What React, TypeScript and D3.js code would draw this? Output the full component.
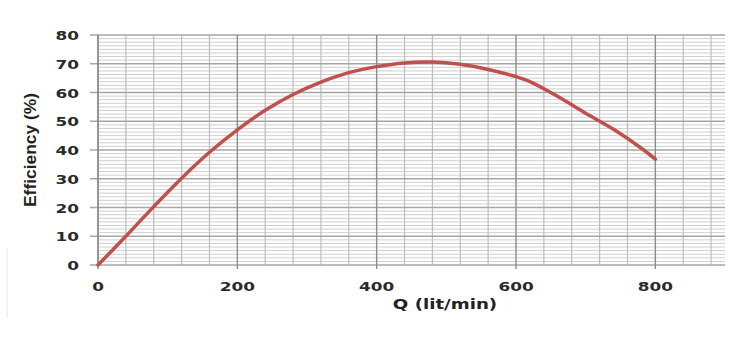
import React from 'react';
import * as d3 from 'd3';

// flow (lit/min) and efficiency (%)
const flow = [0, 40, 80, 120, 160, 200, 240, 280, 320, 360, 400, 440, 480, 520, 560, 600, 620, 660, 700, 740, 780, 800];
const efficiency = [0, 10, 20.3, 30.2, 39.2, 47, 53.8, 59.3, 63.6, 66.9, 69, 70.3, 70.6, 69.8, 68, 65.5, 63.8, 58.6, 52.8, 47.2, 40.6, 36.8];
const xTicks = [0, 200, 400, 600, 800];
const yTicks = [0, 10, 20, 30, 40, 50, 60, 70, 80];

const W = 749, H = 339;
const left = 98, right = 725, top = 35, bottom = 265;

export default function App() {
    const x = d3.scaleLinear().domain([0, 900]).range([left, right]);
    const y = d3.scaleLinear().domain([0, 80]).range([bottom, top]);

    const xMinor = d3.range(0, 901, 40).filter(v => v % 200 !== 0);
    const yMinor = d3.range(0, 80.01, 1.25).filter(v => Math.abs(v % 10) > 0.01);

    const line = d3.line<number>()
        .x((d, i) => x(flow[i]))
        .y(d => y(d))
        .curve(d3.curveCatmullRom.alpha(0.5));

    const tickFont = {fontFamily: 'DejaVu Sans', fontWeight: 'bold', fontSize: 13, fill: '#2a2a2a'} as const;

    return (
        <svg width={W} height={H} style={{display: 'block', background: '#fff'}}>
            <style>{`body{margin:0}`}</style>
            {/* minor grid */}
            {yMinor.map(v => (
                <line key={'ym' + v} x1={left} x2={right} y1={y(v)} y2={y(v)} stroke="#cfcfcf" strokeWidth={1}/>
            ))}
            {xMinor.map(v => (
                <line key={'xm' + v} x1={x(v)} x2={x(v)} y1={top} y2={bottom} stroke="#bdbdbd" strokeWidth={1.2}/>
            ))}
            {/* major grid */}
            {yTicks.map(v => (
                <line key={'yM' + v} x1={left - 8} x2={right} y1={y(v)} y2={y(v)} stroke="#a6a6a6" strokeWidth={1.3}/>
            ))}
            {xTicks.map(v => (
                <line key={'xM' + v} x1={x(v)} x2={x(v)} y1={top} y2={bottom + 4} stroke="#8c8c8c" strokeWidth={1.4}/>
            ))}
            <line x1={left} x2={left} y1={top} y2={bottom} stroke="#8c8c8c" strokeWidth={1.4}/>

            <path d={line(efficiency) || ''} fill="none" stroke="#c0504d" strokeWidth={3.5} strokeLinecap="round"/>

            {yTicks.map(v => (
                <text key={'yl' + v} transform={`translate(79,${y(v) + 5}) scale(1.3,1)`} textAnchor="end" style={tickFont}>{v}</text>
            ))}
            {xTicks.map(v => (
                <text key={'xl' + v} transform={`translate(${x(v)},${bottom + 26}) scale(1.3,1)`} textAnchor="middle" style={tickFont}>{v}</text>
            ))}

            <text transform="translate(445,309) scale(1.3,1)" textAnchor="middle"
                  style={{fontFamily: 'DejaVu Sans', fontWeight: 'bold', fontSize: 14, fill: '#222'}}>Q (lit/min)</text>
            <text transform="translate(36,150) rotate(-90)" textAnchor="middle" textLength={114} lengthAdjust="spacingAndGlyphs"
                  style={{fontFamily: 'Liberation Sans Narrow, Liberation Sans', fontWeight: 'bold', fontSize: 16, fill: '#222'}}>Efficiency (%)</text>

            <line x1={7} x2={7} y1={248} y2={318} stroke="#e6e6e6" strokeWidth={1}/>
        </svg>
    );
}
